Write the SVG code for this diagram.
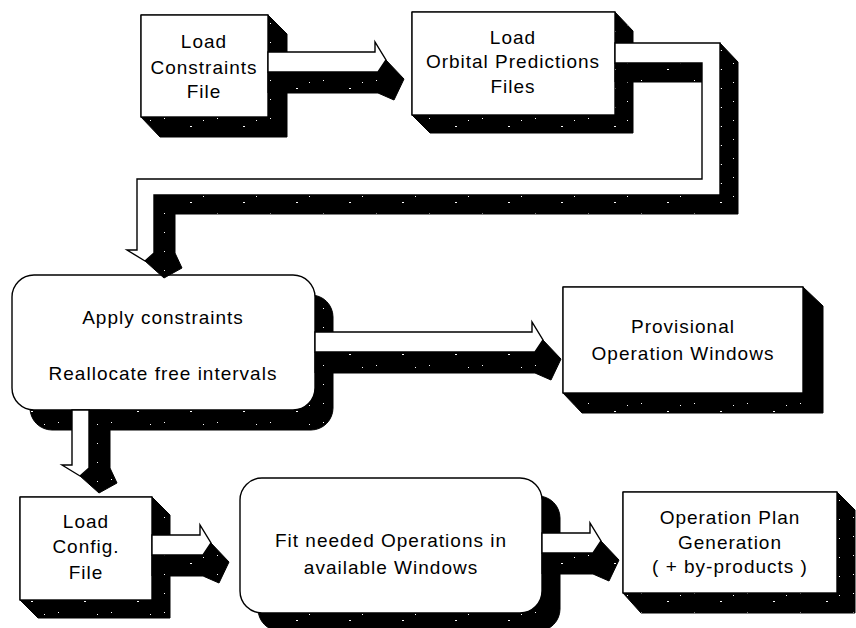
<svg xmlns="http://www.w3.org/2000/svg" width="856" height="628" viewBox="0 0 856 628">
<defs>
<pattern id="sp" width="53" height="19" patternUnits="userSpaceOnUse">
<rect width="53" height="19" fill="#000"/>
<rect x="5" y="4" width="1" height="1" fill="#fff"/>
<rect x="31" y="12" width="2" height="1" fill="#fff"/>
<rect x="44" y="6" width="1" height="1" fill="#fff"/>
</pattern>
<style>
.face{fill:#fff;stroke:#000;stroke-width:1.4;stroke-linejoin:miter}
.sh{fill:url(#sp);stroke:#000;stroke-width:1}
text{font-family:"Liberation Sans",Arial,sans-serif;font-size:19px;letter-spacing:1px;text-anchor:middle;fill:#000}
</style>
</defs>
<rect width="856" height="628" fill="#fff"/>

<g id="load-constraints">
<path class="sh" d="M141,15 H268 L287,34 V137 H160 L141,117 Z"/>
<rect class="face" x="141" y="15" width="127" height="102"/>
<text x="204" y="48">Load</text>
<text x="204" y="74">Constraints</text>
<text x="204" y="98">File</text>
</g>

<g id="load-orbital">
<path class="sh" d="M412,12 H615 L633,31 V133 H430 L412,115 Z"/>
<rect class="face" x="412" y="12" width="203" height="103"/>
<text x="513" y="44">Load</text>
<text x="513" y="68">Orbital Predictions</text>
<text x="513" y="93">Files</text>
</g>

<g id="apply-constraints">
<rect class="sh" x="30" y="295" width="303" height="135" rx="22"/>
<rect class="face" x="12" y="275" width="303" height="135" rx="22"/>
<text x="163" y="324">Apply constraints</text>
<text x="163" y="380">Reallocate free intervals</text>
</g>

<g id="provisional-windows">
<path class="sh" d="M563,287 H803 L823,306 V413 H582 L563,393 Z"/>
<rect class="face" x="563" y="287" width="240" height="106"/>
<text x="683" y="333">Provisional</text>
<text x="683" y="360">Operation Windows</text>
</g>

<g id="load-config">
<path class="sh" d="M20,497 H152 L170,515 V618 H38 L20,600 Z"/>
<rect class="face" x="20" y="497" width="132" height="103"/>
<text x="86" y="528">Load</text>
<text x="86" y="553">Config.</text>
<text x="86" y="579">File</text>
</g>

<g id="fit-operations">
<rect class="sh" x="258" y="496" width="302" height="135" rx="22"/>
<rect class="face" x="240" y="478" width="302" height="135" rx="22"/>
<text x="391" y="547">Fit needed Operations in</text>
<text x="391" y="574">available Windows</text>
</g>

<g id="operation-plan">
<path class="sh" d="M623,492 H837 L855,510 V613 H641 L623,593 Z"/>
<rect class="face" x="623" y="492" width="214" height="101"/>
<text x="730" y="524">Operation Plan</text>
<text x="730" y="549">Generation</text>
<text x="730" y="573">( + by-products )</text>
</g>

<g id="connectors">
<path class="sh" d="M268,72 H378 L386,60 L404,79 L394,100 L378,93 H268 Z"/>
<path class="face" d="M268,52 H375 V42 L386,60 L378,72 H268 Z"/>

<path class="sh" d="M615,63 H702 V82 H615 Z"/>
<path class="sh" d="M720,43 L738,62 V214 H175 V253 L182,268 L164,278 L145,261 L154,253 V195 H720 Z"/>
<path class="face" d="M615,43 H720 V195 H154 V253 L145,261 L127,250 H137 V179 H702 V63 H615 Z"/>

<path class="sh" d="M315,352 H535 L543,340 L561,359 L551,380 L535,373 H315 Z"/>
<path class="face" d="M315,332 H532 V322 L543,340 L535,352 H315 Z"/>

<path class="sh" d="M89,410 V468 L80,476 L99,493 L117,483 L110,468 V410 Z"/>
<path class="face" d="M72,410 V465 H62 L80,476 L89,468 V410 Z"/>

<path class="sh" d="M152,555 H203 L211,543 L229,562 L219,583 L203,576 H152 Z"/>
<path class="face" d="M152,535 H200 V525 L211,543 L203,555 H152 Z"/>

<path class="sh" d="M542,553 H593 L601,541 L619,560 L609,581 L593,574 H542 Z"/>
<path class="face" d="M542,533 H590 V523 L601,541 L593,553 H542 Z"/>
</g>
</svg>
